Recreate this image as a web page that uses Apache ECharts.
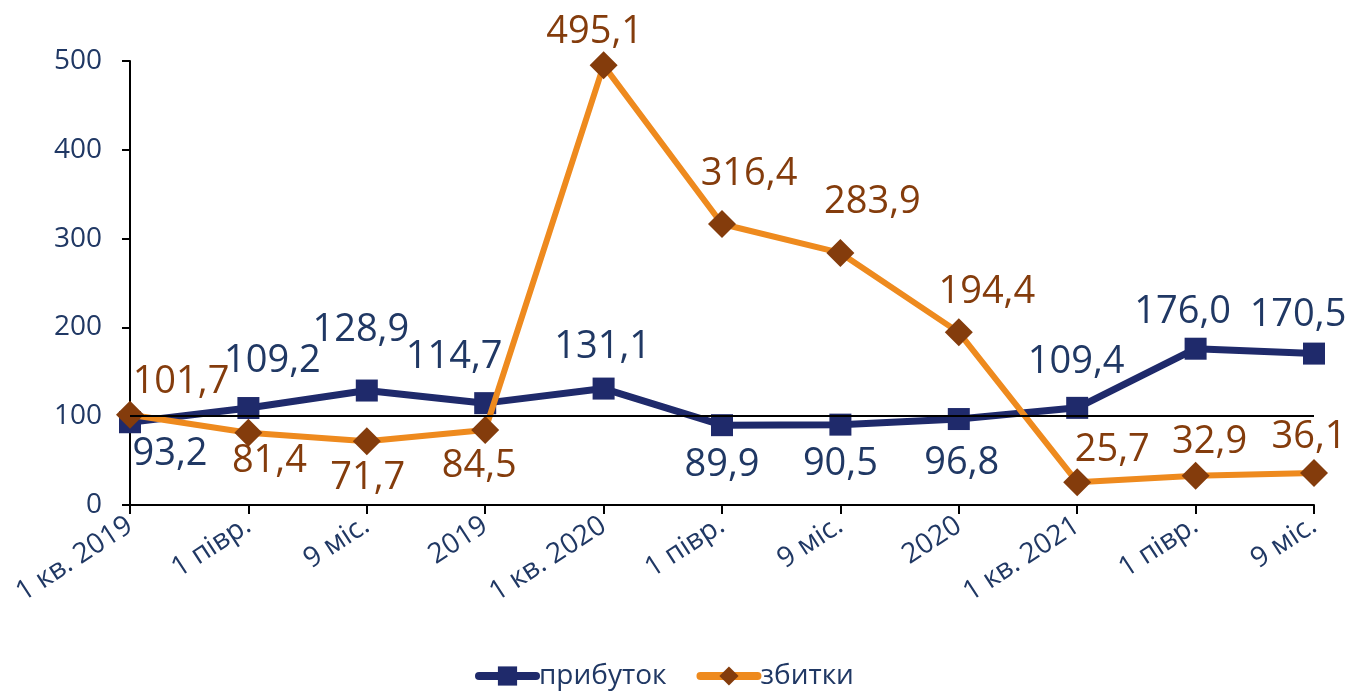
<!DOCTYPE html>
<html>
<head>
<meta charset="utf-8">
<script src="https://cdn.jsdelivr.net/npm/echarts@6/dist/echarts.min.js"></script>
<style>
  html, body { margin: 0; padding: 0; background: #fff; }
  #main { width: 1357px; height: 695px; }
</style>
</head>
<body>
<div id="main"></div>
<script>
    // категорії (вісь X)
    var categories = ['1 кв. 2019', '1 півр.', '9 міс.', '2019', '1 кв. 2020', '1 півр.', '9 міс.', '2020', '1 кв. 2021', '1 півр.', '9 міс.'];
    var profit = [93.2, 109.2, 128.9, 114.7, 131.1, 89.9, 90.5, 96.8, 109.4, 176.0, 170.5];  //прибуток
    var losses = [101.7, 81.4, 71.7, 84.5, 495.1, 316.4, 283.9, 194.4, 25.7, 32.9, 36.1];  //збитки
    var yTicks = [0, 100, 200, 300, 400, 500];

    // зсув підписів відносно точки [dx, dy] (окремо від даних)
    var profitOffset = [[40, 32], [24, -47], [-6, -60], [-31, -46], [-1, -41], [0, 40], [0, 40], [3, 44], [-1, -46], [-13, -37], [-16, -38]];
    var lossOffset = [[51, -33], [21, 28], [1, 37], [-6, 36], [-9, -33], [27, -50], [32, -51], [28, -40], [35, -32], [14, -34], [-5, -36]];

    var navy = '#1f2a6b';
    var navyText = '#203864';
    var orange = '#ee8a1e';
    var brown = '#843c0c';

    function fmt(v) {
        return v.toFixed(1).replace('.', ',');
    }

    function buildData(vals, offs, color) {
        return vals.map(function (v, i) {
            return {
                value: v,
                label: {
                    position: 'inside',
                    offset: offs[i],
                    color: color
                }
            };
        });
    }

    var myChart = echarts.init(document.getElementById('main'));

    var option = {
        animation: false,
        textStyle: { fontFamily: '"Open Sans", "Noto Sans", sans-serif' },
        grid: {
            left: 130,
            right: 43,
            top: 61,
            bottom: 190
        },
        legend: {
            bottom: 0,
            left: 470,
            itemWidth: 57,
            itemHeight: 24,
            itemGap: 30,
            lineStyle: { width: 8, cap: 'round' },
            textStyle: { fontSize: 28, color: navyText, fontFamily: '"Open Sans", sans-serif', padding: [0, 0, 0, -2] },
            data: ['прибуток', 'збитки']
        },
        xAxis: {
            type: 'category',
            boundaryGap: false,
            data: categories,
            axisLine: { lineStyle: { color: '#000', width: 2 } },
            axisTick: { show: true, length: 9, lineStyle: { color: '#000', width: 2 } },
            axisLabel: {
                rotate: 33,
                fontSize: 28,
                color: navyText,
                margin: 18,
                interval: 0
            }
        },
        yAxis: {
            type: 'value',
            min: yTicks[0],
            max: yTicks[yTicks.length - 1],
            interval: 100,
            splitLine: { show: false },
            axisLine: { show: true, lineStyle: { color: '#000', width: 2 } },
            axisTick: { show: true, length: 8, lineStyle: { color: '#000', width: 2 } },
            axisLabel: { fontSize: 28, color: navyText, margin: 28 }
        },
        series: [
            {
                name: 'прибуток',
                type: 'line',
                data: buildData(profit, profitOffset, navyText),
                color: navy,
                symbol: 'rect',
                symbolSize: 22,
                lineStyle: { width: 7, color: navy },
                itemStyle: { color: navy },
                label: {
                    show: true,
                    fontSize: 38,
                    formatter: function (p) { return fmt(p.value); }
                },
                z: 3
            },
            {
                name: 'збитки',
                type: 'line',
                data: buildData(losses, lossOffset, brown),
                color: orange,
                symbol: 'diamond',
                symbolSize: 28,
                lineStyle: { width: 6, color: orange },
                itemStyle: { color: brown },
                label: {
                    show: true,
                    fontSize: 38,
                    formatter: function (p) { return fmt(p.value); }
                },
                markLine: {
                    silent: true,
                    symbol: 'none',
                    label: { show: false },
                    lineStyle: { color: '#000', width: 2, type: 'solid' },
                    data: [{ yAxis: 100 }]
                },
                z: 4
            }
        ]
    };

    myChart.setOption(option);
    window.addEventListener('resize', function () {
        myChart.resize();
    });
</script>
</body>
</html>
